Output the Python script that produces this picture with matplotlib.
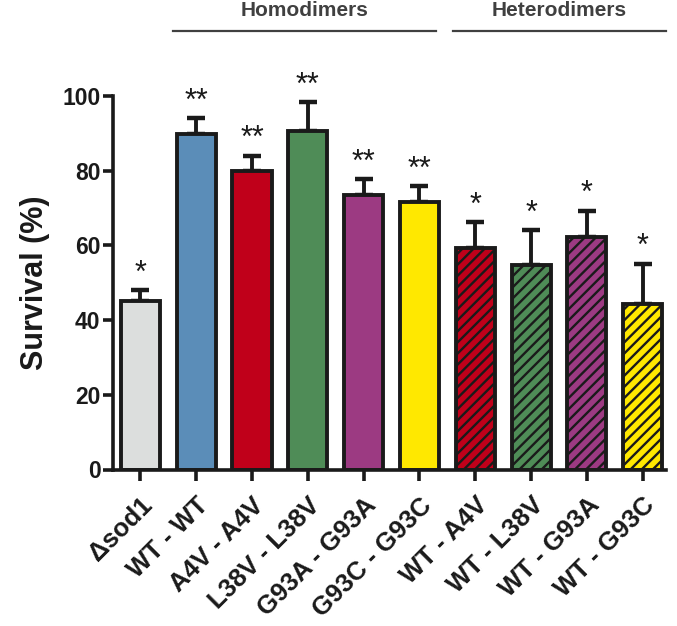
import matplotlib
matplotlib.use("Agg")
import matplotlib.pyplot as plt
import numpy as np

plt.rcParams['font.family'] = ['Liberation Sans', 'DejaVu Sans']
plt.rcParams['hatch.linewidth'] = 1.7

categories = ["Δsod1", "WT - WT", "A4V - A4V", "L38V - L38V", "G93A - G93A",
              "G93C - G93C", "WT - A4V", "WT - L38V", "WT - G93A", "WT - G93C"]
survival = [45.2, 89.9, 80.0, 90.5, 73.5, 71.6, 59.2, 54.8, 62.2, 44.3]
sem = [2.9, 4.2, 4.0, 7.9, 4.3, 4.3, 7.0, 9.3, 7.1, 10.8]
signif = ["*", "**", "**", "**", "**", "**", "*", "*", "*", "*"]
colors = ["#dcdedd", "#5b8db8", "#c0001a", "#4f8c57", "#9c3a82", "#ffe800",
          "#c0001a", "#4f8c57", "#9c3a82", "#ffe800"]
hatches = ["", "", "", "", "", "", "///", "///", "///", "///"]
groups = [("Homodimers", 0.58, 5.30), ("Heterodimers", 5.6, 9.42)]
yticks = [0, 20, 40, 60, 80, 100]

fig = plt.figure(figsize=(6.77, 6.26), dpi=100)
ax = fig.add_axes([0.167, 0.25, 0.817, 0.597])

dark = "#1a1a1a"
x = np.arange(len(categories))
for i in x:
    ax.bar(i, survival[i], width=0.7, color=colors[i], edgecolor=dark,
           linewidth=2.8, hatch=hatches[i], zorder=2)
    ax.errorbar(i, survival[i], yerr=[[0], [sem[i]]], fmt="none", ecolor=dark,
                elinewidth=2.8, capsize=6.5, capthick=3.2, zorder=1, clip_on=False)
    ax.text(i, survival[i] + sem[i] + 2.2, signif[i], ha="center", va="baseline",
            fontsize=22, color=dark, clip_on=False)

ax.set_xlim(-0.49, 9.42)
ax.set_ylim(0, 100)
ax.set_yticks(yticks)
ax.set_xticks(x)
ax.set_xticklabels(categories, rotation=45, ha="right", rotation_mode="anchor",
                   fontsize=18.5, fontweight="bold", color=dark)
for lab in ax.get_yticklabels():
    lab.set_fontsize(16.5)
    lab.set_fontweight("bold")
    lab.set_color(dark)
ax.tick_params(axis="y", width=2.6, length=7, color=dark, pad=2)
ax.tick_params(axis="x", width=2.6, length=8, color=dark, pad=9)
ax.spines["top"].set_visible(False)
ax.spines["right"].set_visible(False)
for s in ("left", "bottom"):
    ax.spines[s].set_linewidth(2.6)
    ax.spines[s].set_color(dark)
ax.set_ylabel("Survival (%)", fontsize=22, fontweight="bold", color=dark, labelpad=9)

for name, x0, x1 in groups:
    ax.plot([x0, x1], [117.2, 117.2], color="#404040", lw=1.6, clip_on=False)
    ax.text((x0 + x1) / 2, 122.9, name, ha="center", va="center", fontsize=15,
            fontweight="bold", color="#404040", clip_on=False)

fig.savefig("out.png", dpi=100)
